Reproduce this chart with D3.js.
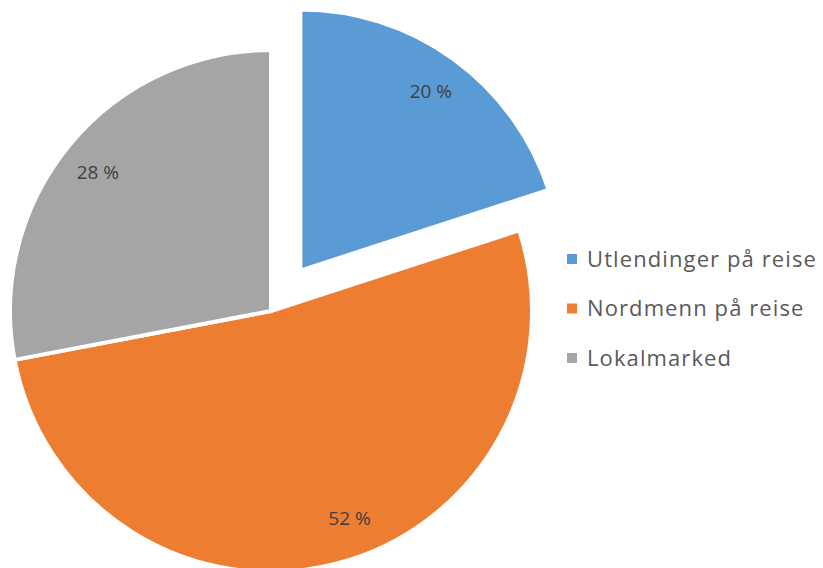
<!DOCTYPE html>
<html>
<head>
<meta charset="utf-8">
<script src="https://cdn.jsdelivr.net/npm/d3@7"></script>
<style>
  body { margin: 0; background: #fff; }
</style>
</head>
<body>
<div id="chart"></div>
<script>
var categories = ["Utlendinger på reise", "Nordmenn på reise", "Lokalmarked"];
var values = [20, 52, 28];
var labels = ["20 %", "52 %", "28 %"];
var colors = ["#5B9BD5", "#ED7D31", "#A5A5A5"];
var exploded = [50, 0, 0];

var width = 823, height = 568;
var cx = 271, cy = 311, radius = 261;
// Excel's "best fit" nudges the labels a little off the middle angle
var labelNudge = [0, -0.11, -0.015];

var svg = d3.select("#chart").append("svg")
    .attr("width", width).attr("height", height);

var g = svg.append("g").attr("transform", "translate(" + cx + "," + cy + ")");

var pie = d3.pie().sort(null).value(function(d) { return d; });
var arcs = pie(values);

var arc = d3.arc().innerRadius(0).outerRadius(radius);

// slices, blue one pulled out along its middle angle
var slice = g.selectAll(".slice")
    .data(arcs)
    .enter().append("g")
    .attr("class", "slice")
    .attr("transform", function(d, i) {
        var a = (d.startAngle + d.endAngle) / 2;
        return "translate(" + (Math.sin(a) * exploded[i]) + "," + (-Math.cos(a) * exploded[i]) + ")";
    });

slice.append("path")
    .attr("d", arc)
    .attr("fill", function(d, i) { return colors[i]; })
    .attr("stroke", "#fff")
    .attr("stroke-width", 4)
    .attr("stroke-linejoin", "round");

slice.append("text")
    .attr("transform", function(d, i) {
        var a = (d.startAngle + d.endAngle) / 2 + labelNudge[i];
        return "translate(" + (Math.sin(a) * 222) + "," + (-Math.cos(a) * 222) + ")";
    })
    .attr("dy", "0.35em")
    .attr("text-anchor", "middle")
    .style("font-family", "'Open Sans', sans-serif")
    .style("font-size", "19px")
    .style("fill", "#404040")
    .text(function(d, i) { return labels[i]; });

// legend
var legend = svg.append("g").attr("transform", "translate(567,259)");
var item = legend.selectAll(".item")
    .data(categories)
    .enter().append("g")
    .attr("class", "item")
    .attr("transform", function(d, i) { return "translate(0," + (i * 49.5) + ")"; });

item.append("rect")
    .attr("x", 0).attr("y", -5)
    .attr("width", 10).attr("height", 10)
    .attr("fill", function(d, i) { return colors[i]; });

item.append("text")
    .attr("x", 20)
    .attr("dy", "0.35em")
    .style("font-family", "'Open Sans', sans-serif")
    .style("font-size", "22px")
    .style("letter-spacing", "1.1px")
    .style("fill", "#595959")
    .text(function(d) { return d; });
</script>
</body>
</html>
